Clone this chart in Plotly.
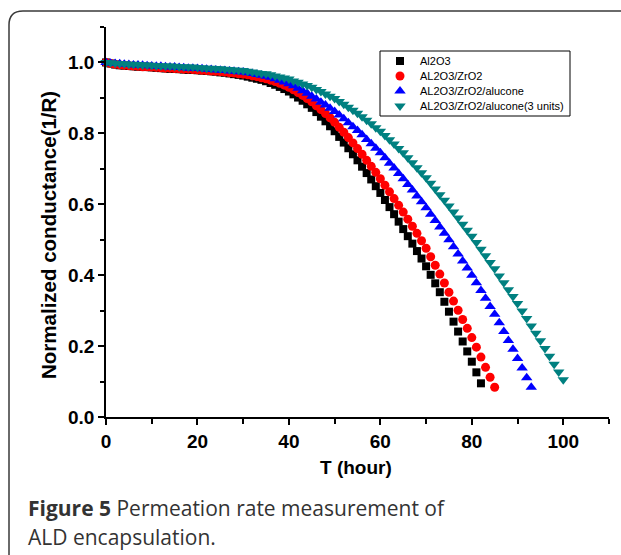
import plotly.graph_objects as go

# ---------------- data (one marker per hour) ----------------
names = ["Al2O3", "AL2O3/ZrO2", "AL2O3/ZrO2/alucone", "AL2O3/ZrO2/alucone(3 units)"]

t_al2o3 = list(range(0, 83))
g_al2o3 = [1.000, 0.997, 0.994, 0.992, 0.991, 0.990, 0.989, 0.988, 0.988, 0.987,
           0.986, 0.985, 0.984, 0.983, 0.982, 0.982, 0.981, 0.980, 0.979, 0.979,
           0.978, 0.977, 0.976, 0.975, 0.974, 0.972, 0.971, 0.969, 0.967, 0.965,
           0.963, 0.960, 0.957, 0.954, 0.951, 0.947, 0.942, 0.937, 0.931, 0.925,
           0.918, 0.910, 0.901, 0.892, 0.882, 0.872, 0.860, 0.847, 0.834, 0.820,
           0.806, 0.790, 0.774, 0.758, 0.741, 0.724, 0.706, 0.688, 0.670, 0.651,
           0.632, 0.612, 0.592, 0.572, 0.551, 0.530, 0.510, 0.489, 0.468, 0.447,
           0.425, 0.401, 0.377, 0.352, 0.325, 0.297, 0.269, 0.241, 0.213, 0.185,
           0.156, 0.126, 0.095]

t_zro2 = list(range(0, 86))
g_zro2 = [1.000, 0.997, 0.995, 0.993, 0.992, 0.991, 0.990, 0.989, 0.988, 0.988,
          0.987, 0.986, 0.985, 0.984, 0.984, 0.983, 0.982, 0.981, 0.981, 0.980,
          0.979, 0.978, 0.977, 0.976, 0.975, 0.974, 0.973, 0.971, 0.970, 0.968,
          0.967, 0.965, 0.962, 0.960, 0.957, 0.954, 0.950, 0.946, 0.941, 0.936,
          0.930, 0.923, 0.915, 0.907, 0.898, 0.889, 0.878, 0.867, 0.856, 0.844,
          0.831, 0.817, 0.803, 0.788, 0.773, 0.757, 0.741, 0.724, 0.707, 0.690,
          0.672, 0.654, 0.635, 0.616, 0.597, 0.578, 0.558, 0.538, 0.518, 0.497,
          0.476, 0.452, 0.428, 0.403, 0.378, 0.352, 0.327, 0.301, 0.275, 0.250,
          0.224, 0.197, 0.169, 0.140, 0.112, 0.084]

t_alucone = list(range(0, 94))
g_alucone = [1.000, 0.998, 0.997, 0.996, 0.995, 0.994, 0.993, 0.993, 0.992, 0.991,
             0.990, 0.989, 0.989, 0.988, 0.987, 0.987, 0.986, 0.985, 0.984, 0.984,
             0.983, 0.982, 0.981, 0.980, 0.979, 0.978, 0.977, 0.976, 0.975, 0.974,
             0.973, 0.971, 0.969, 0.966, 0.964, 0.961, 0.958, 0.954, 0.950, 0.945,
             0.940, 0.934, 0.927, 0.920, 0.913, 0.905, 0.897, 0.888, 0.880, 0.871,
             0.862, 0.852, 0.841, 0.830, 0.819, 0.808, 0.796, 0.783, 0.771, 0.758,
             0.745, 0.731, 0.716, 0.702, 0.687, 0.672, 0.656, 0.640, 0.623, 0.607,
             0.590, 0.572, 0.554, 0.536, 0.518, 0.500, 0.480, 0.460, 0.440, 0.420,
             0.400, 0.379, 0.357, 0.335, 0.312, 0.290, 0.266, 0.241, 0.216, 0.191,
             0.165, 0.138, 0.111, 0.084]

t_3units = list(range(0, 101))
g_3units = [1.000, 0.999, 0.998, 0.997, 0.996, 0.995, 0.995, 0.994, 0.993, 0.993,
            0.992, 0.991, 0.991, 0.990, 0.990, 0.989, 0.988, 0.988, 0.987, 0.987,
            0.986, 0.985, 0.984, 0.984, 0.983, 0.982, 0.981, 0.980, 0.979, 0.978,
            0.977, 0.975, 0.973, 0.971, 0.969, 0.968, 0.965, 0.962, 0.959, 0.956,
            0.953, 0.948, 0.944, 0.939, 0.935, 0.930, 0.924, 0.918, 0.911, 0.905,
            0.898, 0.890, 0.882, 0.874, 0.865, 0.857, 0.847, 0.837, 0.827, 0.816,
            0.806, 0.794, 0.782, 0.770, 0.757, 0.745, 0.731, 0.717, 0.703, 0.689,
            0.675, 0.659, 0.643, 0.627, 0.611, 0.595, 0.578, 0.561, 0.544, 0.527,
            0.510, 0.492, 0.473, 0.455, 0.436, 0.418, 0.398, 0.379, 0.359, 0.340,
            0.320, 0.299, 0.278, 0.257, 0.236, 0.215, 0.193, 0.171, 0.149, 0.127,
            0.105]

x_ticks = [0, 20, 40, 60, 80, 100]
y_ticks = [0.0, 0.2, 0.4, 0.6, 0.8, 1.0]

# ---------------- styling ----------------
W, H = 621, 555
ML, MR, MT, MB = 106, 12, 27, 138
PW, PH = W - ML - MR, H - MT - MB


def px(x):
    return (x - ML) / PW


def py(y):
    return (H - MB - y) / PH


AX_FONT = "Liberation Sans, Arial, sans-serif"
CAP_FONT = "Open Sans, sans-serif"
series = [
    (t_al2o3, g_al2o3, "square", "#000000", 8),
    (t_zro2, g_zro2, "circle", "#ff0000", 9),
    (t_alucone, g_alucone, "triangle-up", "#0000ff", 10),
    (t_3units, g_3units, "triangle-down", "#008080", 10),
]
legend_ids = ["legend", "legend2", "legend3", "legend4"]
legend_rows_px = [61, 76, 91, 106]   # vertical centre of each legend row (pixels)

fig = go.Figure()
for name, lid, (xs, ys, sym, col, sz) in zip(names, legend_ids, series):
    fig.add_trace(go.Scatter(
        x=xs, y=ys, mode="markers", name=name, cliponaxis=False, legend=lid,
        marker=dict(symbol=sym, color=col, size=sz, line=dict(width=0)),
    ))

axis_common = dict(
    showline=True, linecolor="black", linewidth=1.5, mirror=False,
    showgrid=False, zeroline=False, ticks="outside", tickcolor="black",
    tickwidth=1.5, ticklen=6,
    tickfont=dict(family=AX_FONT, size=19, color="black", weight="bold"),
)

fig.update_xaxes(range=[0, 110], tickvals=x_ticks,
                 minor=dict(dtick=10, ticks="outside", ticklen=5, tickcolor="black", tickwidth=1.5),
                 **axis_common)
fig.update_yaxes(range=[0, 1.1], tickvals=y_ticks, tickformat=".1f",
                 minor=dict(dtick=0.1, ticks="outside", ticklen=4, tickcolor="black", tickwidth=1.5),
                 **axis_common)

frame = (f"M {px(9)},{py(570)} L {px(9)},{py(25)} "
         f"Q {px(9)},{py(11)} {px(23)},{py(11)} L {px(640)},{py(11)}")

legends = {}
for lid, row in zip(legend_ids, legend_rows_px):
    legends[lid] = dict(x=px(380), y=py(row), xanchor="left", yanchor="middle",
                        bgcolor="rgba(0,0,0,0)", borderwidth=0,
                        font=dict(family=AX_FONT, size=11, color="black"),
                        itemwidth=30, tracegroupgap=0)

fig.update_layout(
    width=W, height=H,
    margin=dict(l=ML, r=MR, t=MT, b=MB),
    paper_bgcolor="white", plot_bgcolor="white",
    showlegend=True,
    **legends,
    shapes=[
        dict(type="path", xref="paper", yref="paper", path=frame,
             line=dict(color="#3a3a3a", width=1.5)),
        dict(type="rect", xref="paper", yref="paper", layer="above",
             x0=px(380), x1=px(570), y0=py(116), y1=py(51),
             fillcolor="white", line=dict(color="black", width=1)),
    ],
    annotations=[
        dict(text="<b>T (hour)</b>", xref="paper", yref="paper",
             x=px(356), y=py(467), xanchor="center", yanchor="middle", showarrow=False,
             font=dict(family=AX_FONT, size=19, color="black")),
        dict(text="<b>Normalized conductance(1/R)</b>", xref="paper", yref="paper",
             x=px(48), y=py(235), xanchor="center", yanchor="middle", showarrow=False,
             textangle=-90, font=dict(family=AX_FONT, size=20.5, color="black")),
        dict(text="<b>Figure 5</b> Permeation rate measurement of", xref="paper", yref="paper",
             x=px(26), y=py(508), xanchor="left", yanchor="middle", showarrow=False,
             font=dict(family=CAP_FONT, size=21, color="#333333")),
        dict(text="ALD encapsulation.", xref="paper", yref="paper",
             x=px(26), y=py(537), xanchor="left", yanchor="middle", showarrow=False,
             font=dict(family=CAP_FONT, size=21, color="#333333")),
    ],
)

fig.write_html("out.html")
